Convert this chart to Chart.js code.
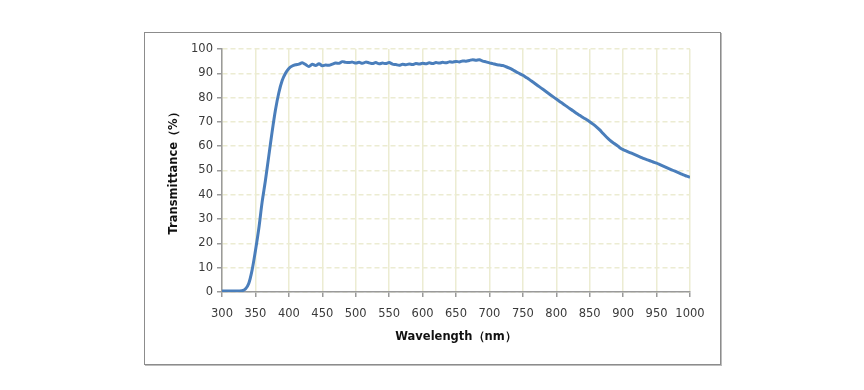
<!DOCTYPE html>
<html><head><meta charset="utf-8">
<script src="https://cdn.jsdelivr.net/npm/chart.js@4.4.1/dist/chart.umd.min.js"></script>
<style>
html,body{margin:0;padding:0;background:#fff;}
#box{position:absolute;left:144px;top:32px;width:575px;height:331px;border:1px solid #8c8c8c;box-shadow:1px 1px 0 #bdbdbd;}
canvas{display:block;}
</style></head><body>
<div id="box"><canvas id="c" width="575" height="331"></canvas></div>
<script>
const wavelengths = [];
for (let w = 300; w <= 1000; w += 5) wavelengths.push(w);
const transmittance = [
0.4,0.4,0.4,0.4,0.4,0.4,0.5,1.2,3.5,9,17,26,37,46,56,66,75,82,87,90,
92,93,93.5,93.8,94.3,93.6,92.8,93.7,93.2,93.9,93.1,93.4,93.3,93.8,94.2,94.1,94.8,94.5,94.4,94.6,
94.2,94.5,94.1,94.6,94.3,94.0,94.4,93.9,94.2,94.0,94.4,93.8,93.6,93.3,93.7,93.5,93.8,93.6,94.0,93.8,
94.1,93.9,94.3,94.0,94.4,94.2,94.5,94.3,94.7,94.6,94.9,94.7,95.1,95.0,95.3,95.6,95.4,95.6,95.0,94.7,
94.3,94.0,93.6,93.4,93.2,92.7,92.1,91.4,90.6,89.9,89.2,88.3,87.4,86.4,85.4,84.4,83.4,82.4,81.4,80.4,
79.4,78.4,77.5,76.5,75.5,74.6,73.6,72.7,71.8,71.0,70.1,69.1,68.0,66.7,65.2,63.8,62.5,61.4,60.5,59.4,
58.6,58.0,57.4,56.8,56.2,55.6,55.0,54.5,54.0,53.5,53.0,52.4,51.8,51.2,50.6,50.0,49.4,48.8,48.2,47.7,47.2
];
const xTicks = [300,350,400,450,500,550,600,650,700,750,800,850,900,950,1000];
const yTicks = [0,10,20,30,40,50,60,70,80,90,100];
const xTitle = 'Wavelength（nm）';
const yTitle = 'Transmittance（%）';

const gridColor = '#ececd2';
const tickFont = {family:'DejaVu Sans', size:11.5};
new Chart(document.getElementById('c'), {
  type:'line',
  data:{datasets:[{
    data: wavelengths.map((w,i)=>({x:w,y:transmittance[i]})),
    borderColor:'#4a7ebb', borderWidth:3, pointRadius:0, tension:0.3, fill:false
  }]},
  options:{
    responsive:false, animation:false,
    plugins:{legend:{display:false},tooltip:{enabled:false}},
    layout:{padding:{top:16,right:30,left:18,bottom:16}},
    scales:{
      x:{type:'linear',min:300,max:1000,
        afterBuildTicks:s=>{s.ticks=xTicks.map(v=>({value:v}));},
        afterFit:s=>{s.height=56;},
        grid:{color:gridColor,lineWidth:1.5,tickColor:'#9a9a9a',tickLength:5},
        border:{color:'#9a9a9a',width:1.5},
        ticks:{color:'#3a3a3a',font:tickFont,maxRotation:0,autoSkip:false,padding:10,callback:v=>String(v)},
        title:{display:true,text:xTitle,color:'#111',font:{family:'DejaVu Sans',size:11.5,weight:'bold'},padding:{top:0,bottom:4}}
      },
      y:{min:0,max:100,
        afterBuildTicks:s=>{s.ticks=yTicks.map(v=>({value:v}));},
        afterFit:s=>{s.width=59;},
        grid:{color:gridColor,lineWidth:1.5,tickColor:'#9a9a9a',tickLength:5},
        border:{color:'#9a9a9a',width:1.5,dash:[5,3]},
        ticks:{color:'#3a3a3a',font:tickFont,padding:4,callback:v=>String(v)},
        title:{display:true,text:yTitle,color:'#111',font:{family:'DejaVu Sans',size:11.5,weight:'bold'}}
      }
    }
  }
});
</script>
</body></html>
